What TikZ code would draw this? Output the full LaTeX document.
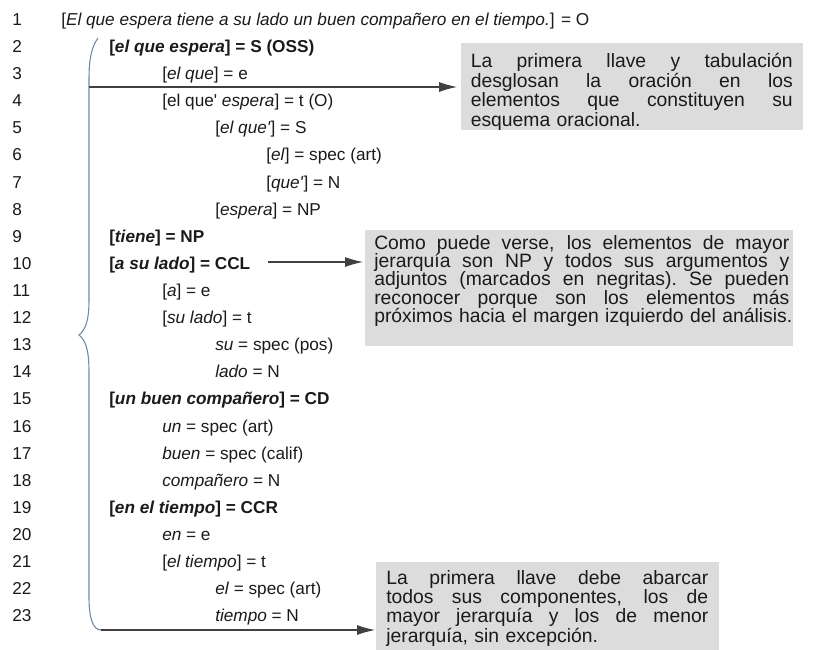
\documentclass[tikz,border=0pt]{standalone}
\usepackage{fontspec}
\setmainfont{Liberation Sans}[Ligatures=TeXOff]
\usetikzlibrary{arrows.meta}
\definecolor{ink}{HTML}{1A1A1A}
\definecolor{bracecol}{HTML}{6F88A3}
\definecolor{linecol}{HTML}{404040}
\definecolor{notefill}{HTML}{DCDCDC}
% one line of the analysis: number, indented entry
\newcommand\listrow[3]{%
  \node[num] (n#1) at (12,{25.5+(#1-1)*27.1}) {#1};
  \node[entry] (t#1) at (#2,{25.5+(#1-1)*27.1}) {#3};}
% a justified line of given width inside a note
\newcommand\fullline[2]{\leavevmode\hbox to #1{\spaceskip=0.28em plus 1fil\relax
  \xspaceskip=0.28em plus 1fil\relax #2}}
\begin{document}
\begin{tikzpicture}[x=0.75pt,y=-0.75pt,
  num/.style={anchor=base west, inner sep=0pt, text=ink, font=\fontsize{12.9}{15}\selectfont},
  entry/.style={anchor=base west, inner sep=0pt, text=ink, font=\fontsize{12.9}{15}\selectfont},
  notebox/.style={fill=notefill, draw=none, anchor=north west, inner sep=0pt},
  notetext/.style={anchor=base west, inner sep=0pt, align=left, text=ink},
  pointer/.style={draw=linecol, line width=0.8pt, -{Latex[length=13.5pt,width=7.5pt]}},
  bracepath/.style={draw=bracecol, line width=0.8pt}]
\useasboundingbox (0,0) rectangle (820,649);
\clip (0,0) rectangle (820,649);

% the analysis, one row per line
\listrow{1}{61}{[\textit{El que espera tiene a su lado un buen compañero en el tiempo.}] = O}
\listrow{2}{109}{\textbf{[\textit{el que espera}] = S (OSS)}}
\listrow{3}{162}{[\textit{el que}] = e}
\listrow{4}{162}{[el que' \textit{espera}] = t (O)}
\listrow{5}{215}{[\textit{el que'}] = S}
\listrow{6}{266}{[\textit{el}] = spec (art)}
\listrow{7}{266}{[\textit{que'}] = N}
\listrow{8}{215}{[\textit{espera}] = NP}
\listrow{9}{109}{\textbf{[\textit{tiene}] = NP}}
\listrow{10}{109}{\textbf{[\textit{a su lado}] = CCL}}
\listrow{11}{162}{[\textit{a}] = e}
\listrow{12}{162}{[\textit{su lado}] = t}
\listrow{13}{215}{\textit{su} = spec (pos)}
\listrow{14}{215}{\textit{lado} = N}
\listrow{15}{109}{\textbf{[\textit{un buen compañero}] = CD}}
\listrow{16}{162}{\textit{un} = spec (art)}
\listrow{17}{162}{\textit{buen} = spec (calif)}
\listrow{18}{162}{\textit{compañero} = N}
\listrow{19}{109}{\textbf{[\textit{en el tiempo}] = CCR}}
\listrow{20}{162}{\textit{en} = e}
\listrow{21}{162}{[\textit{el tiempo}] = t}
\listrow{22}{215}{\textit{el} = spec (art)}
\listrow{23}{215}{\textit{tiempo} = N}

% grey notes
\node[notebox, minimum width=256.5pt, minimum height=65.25pt] (b1) at (461,43) {};
\node[notetext, text width=241.5pt, font=\fontsize{14.5}{13.3}\selectfont] (c1) at (470.5,68) {%
  \fullline{241.5pt}{La primera llave y tabulación}\\
  \fullline{241.5pt}{desglosan la oración en los}\\
  \fullline{241.5pt}{elementos que constituyen su}\\
  \mbox{esquema oracional.}};

\node[notebox, minimum width=321pt, minimum height=87pt] (b2) at (365,230) {};
\node[notetext, text width=311.25pt, font=\fontsize{14.5}{13.75}\selectfont] (c2) at (374,249) {%
  \fullline{311.25pt}{Como puede verse, los elementos de mayor}\\
  \fullline{311.25pt}{jerarquía son NP y todos sus argumentos y}\\
  \fullline{311.25pt}{adjuntos (marcados en negritas). Se pueden}\\
  \fullline{311.25pt}{reconocer porque son los elementos más}\\
  \mbox{próximos hacia el margen izquierdo del análisis.}};

\node[notebox, minimum width=257.25pt, minimum height=75pt] (b3) at (376,562) {};
\node[notetext, text width=241.5pt, font=\fontsize{14.5}{14.6}\selectfont] (c3) at (386,584) {%
  \fullline{241.5pt}{La primera llave debe abarcar}\\
  \fullline{241.5pt}{todos sus componentes, los de}\\
  \fullline{241.5pt}{mayor jerarquía y los de menor}\\
  \mbox{jerarquía, sin excepción.}};

% the first brace, spanning rows 2 to 23
\draw[bracepath] (98,38) .. controls (91,48) and (89,60) .. (89,80)
  -- (89,300) .. controls (89,322) and (85,330) .. (79,335)
  .. controls (85,340) and (89,348) .. (89,372)
  -- (89,598) .. controls (89,618) and (93,630) .. (101,630);

% pointers to the notes
\coordinate (k1) at (89,87);
\coordinate (k2) at (268,262);
\coordinate (k3) at (101,630);
\draw[pointer, shorten >=3pt] (k1) -- (k1 -| b1.west);
\draw[pointer, shorten >=1.5pt] (k2) -- (k2 -| b2.west);
\draw[pointer, shorten >=0.75pt] (k3) -- (k3 -| b3.west);
\end{tikzpicture}
\end{document}
